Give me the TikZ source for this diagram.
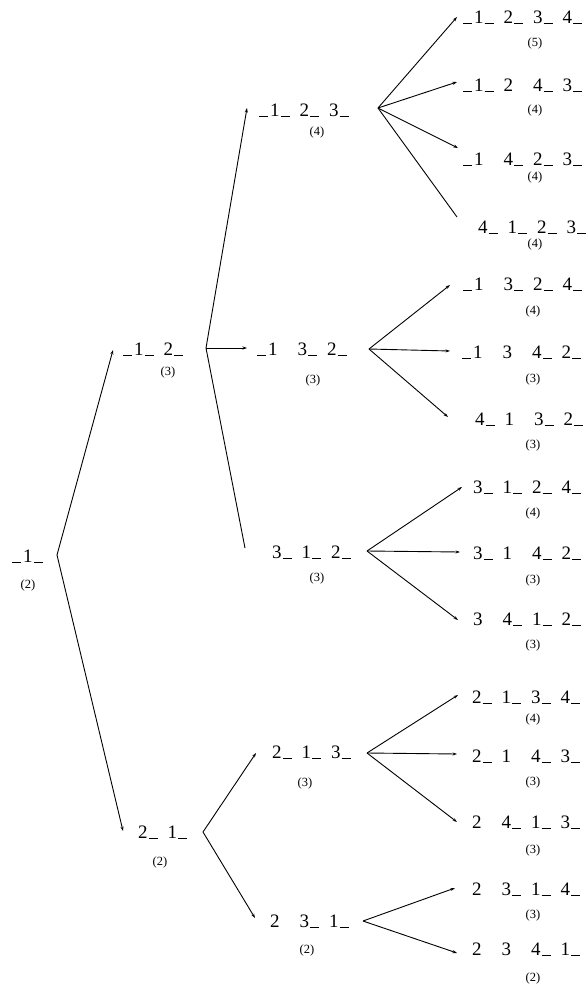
\documentclass[tikz,border=0pt]{standalone}
\usepackage{fontspec}
\setmainfont{Liberation Serif}
\usetikzlibrary{arrows.meta}
\newcommand\Us{\kern1pt\rule[-0.6pt]{9pt}{1pt}}
\newcommand\Ub{\kern10pt}
\newcommand\Ug{\kern10pt}
\newcommand\Ul{\rule[-0.6pt]{9pt}{1pt}\kern2pt}
\tikzset{
  perm/.style={anchor=base west, inner sep=0pt, font=\fontsize{19}{21}\selectfont},
  cnt/.style={inner sep=0pt, font=\fontsize{12.5}{14}\selectfont},
  conn/.style={draw, line width=0.9pt, -{Stealth[length=4.5pt,width=3pt]}},
  plain/.style={draw, line width=0.9pt}
}
\begin{document}
\begin{tikzpicture}[x=1pt,y=-1pt]
\useasboundingbox[fill=white] (0,0) rectangle (588,994);
% root
\node[perm] (r) at (12,562) {\Ul 1\Us};
\node[cnt] (cr) at (28,585) {(2)};
\coordinate (jr) at (57,555);
% level 2
\node[perm] (n12) at (123,355) {\Ul 1\Us\Ug 2\Us};
\node[cnt] (c12) at (168,372) {(3)};
\coordinate (j12) at (206,348);
\coordinate (e12) at (113,350);
\node[perm] (n21) at (138,838) {2\Us\Ug 1\Us};
\node[cnt] (c21) at (160,862) {(2)};
\coordinate (j21) at (203,832);
\coordinate (e21) at (123,831);
% level 3
\node[perm] (n123) at (259,116) {\Ul 1\Us\Ug 2\Us\Ug 3\Us};
\node[cnt] (c123) at (317,132) {(4)};
\coordinate (j123) at (378,108);
\coordinate (e123) at (247,108);
\node[perm] (n132) at (257,355) {\Ul 1\Ub\Ug 3\Us\Ug 2\Us};
\node[cnt] (c132) at (313,380) {(3)};
\coordinate (j132) at (369,349);
\coordinate (e132) at (247,348);
\node[perm] (n312) at (272,558) {3\Us\Ug 1\Us\Ug 2\Us};
\node[cnt] (c312) at (317,578) {(3)};
\coordinate (j312) at (367,551);
\coordinate (e312) at (245,548);
\node[perm] (n213) at (272,758) {2\Us\Ug 1\Us\Ug 3\Us};
\node[cnt] (c213) at (305,783) {(3)};
\coordinate (j213) at (367,753);
\coordinate (e213) at (256,753);
\node[perm] (n231) at (270,927) {2\Ub\Ug 3\Us\Ug 1\Us};
\node[cnt] (c231) at (307,950) {(2)};
\coordinate (j231) at (363,921);
\coordinate (e231) at (255,918);
% leaves
\node[perm] (l1) at (463,23) {\Ul 1\Us\Ug 2\Us\Ug 3\Us\Ug 4\Us};
\node[cnt] (cl1) at (535,43) {(5)};
\coordinate (el1) at (457,17);
\node[perm] (l2) at (463,91) {\Ul 1\Us\Ug 2\Ub\Ug 4\Us\Ug 3\Us};
\node[cnt] (cl2) at (535,110) {(4)};
\coordinate (el2) at (457,82);
\node[perm] (l3) at (463,165) {\Ul 1\Ub\Ug 4\Us\Ug 2\Us\Ug 3\Us};
\node[cnt] (cl3) at (535,177) {(4)};
\coordinate (el3) at (458,148);
\node[perm] (l4) at (478,233) {4\Us\Ug 1\Us\Ug 2\Us\Ug 3\Us};
\node[cnt] (cl4) at (535,244) {(4)};
\coordinate (el4) at (457,217);
\node[perm] (l5) at (463,290) {\Ul 1\Ub\Ug 3\Us\Ug 2\Us\Ug 4\Us};
\node[cnt] (cl5) at (533,311) {(4)};
\coordinate (el5) at (450,285);
\node[perm] (l6) at (462,358) {\Ul 1\Ub\Ug 3\Ub\Ug 4\Us\Ug 2\Us};
\node[cnt] (cl6) at (533,379) {(3)};
\coordinate (el6) at (450,351);
\node[perm] (l7) at (475,425) {4\Us\Ug 1\Ub\Ug 3\Us\Ug 2\Us};
\node[cnt] (cl7) at (533,445) {(3)};
\coordinate (el7) at (448,417);
\node[perm] (l8) at (473,493) {3\Us\Ug 1\Us\Ug 2\Us\Ug 4\Us};
\node[cnt] (cl8) at (533,513) {(4)};
\coordinate (el8) at (462,487);
\node[perm] (l9) at (473,559) {3\Us\Ug 1\Ub\Ug 4\Us\Ug 2\Us};
\node[cnt] (cl9) at (533,580) {(3)};
\coordinate (el9) at (460,552);
\node[perm] (l10) at (473,625) {3\Ub\Ug 4\Us\Ug 1\Us\Ug 2\Us};
\node[cnt] (cl10) at (533,645) {(3)};
\coordinate (el10) at (458,620);
\node[perm] (l11) at (472,703) {2\Us\Ug 1\Us\Ug 3\Us\Ug 4\Us};
\node[cnt] (cl11) at (533,719) {(4)};
\coordinate (el11) at (458,695);
\node[perm] (l12) at (472,762) {2\Us\Ug 1\Ub\Ug 4\Us\Ug 3\Us};
\node[cnt] (cl12) at (533,782) {(3)};
\coordinate (el12) at (457,754);
\node[perm] (l13) at (472,828) {2\Ub\Ug 4\Us\Ug 1\Us\Ug 3\Us};
\node[cnt] (cl13) at (533,850) {(3)};
\coordinate (el13) at (457,822);
\node[perm] (l14) at (472,895) {2\Ub\Ug 3\Us\Ug 1\Us\Ug 4\Us};
\node[cnt] (cl14) at (533,915) {(3)};
\coordinate (el14) at (455,888);
\node[perm] (l15) at (472,955) {2\Ub\Ug 3\Ub\Ug 4\Us\Ug 1\Us};
\node[cnt] (cl15) at (533,978) {(2)};
\coordinate (el15) at (457,953);
% connectors
\path[conn] (jr) -- (e12);
\path[conn] (jr) -- (e21);
\path[conn] (j12) -- (e123);
\path[conn] (j12) -- (e132);
\path[plain] (j12) -- (e312);
\path[conn] (j21) -- (e213);
\path[conn] (j21) -- (e231);
\path[conn] (j123) -- (el1);
\path[conn] (j123) -- (el2);
\path[conn] (j123) -- (el3);
\path[plain] (j123) -- (el4);
\path[conn] (j132) -- (el5);
\path[conn] (j132) -- (el6);
\path[conn] (j132) -- (el7);
\path[conn] (j312) -- (el8);
\path[conn] (j312) -- (el9);
\path[conn] (j312) -- (el10);
\path[conn] (j213) -- (el11);
\path[conn] (j213) -- (el12);
\path[conn] (j213) -- (el13);
\path[conn] (j231) -- (el14);
\path[conn] (j231) -- (el15);
\end{tikzpicture}
\end{document}
